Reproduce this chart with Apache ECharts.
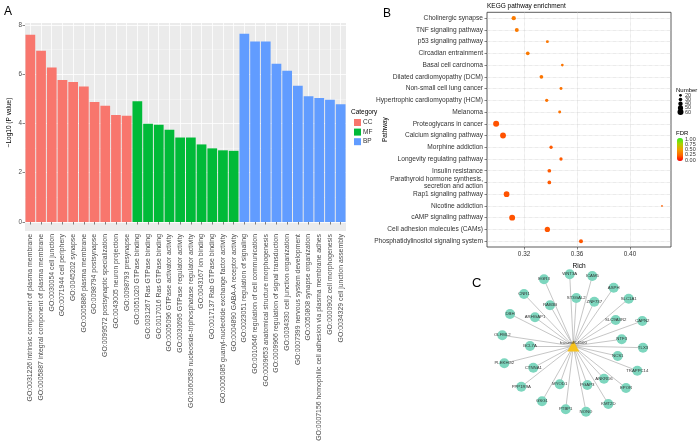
<!DOCTYPE html>
<html><head><meta charset="utf-8">
<script src="https://cdn.jsdelivr.net/npm/echarts@6/dist/echarts.min.js"></script>
<style>html,body{margin:0;padding:0;background:#fff}#c{width:700px;height:445px}</style>
</head><body><div id="c"></div>
<script>
// ---------- Panel A: GO enrichment ----------
const goTerms = [
  'GO:0031226 intrinsic component of plasma membrane','GO:0005887 integral component of plasma membrane',
  'GO:0030054 cell junction','GO:0071944 cell periphery','GO:0045202 synapse','GO:0005886 plasma membrane',
  'GO:0098794 postsynapse','GO:0099572 postsynaptic specialization','GO:0043005 neuron projection','GO:0098793 presynapse',
  'GO:0051020 GTPase binding','GO:0031267 Ras GTPase binding','GO:0017016 Ras GTPase binding',
  'GO:0005096 GTPase activator activity','GO:0030695 GTPase regulator activity',
  'GO:0060589 nucleoside-triphosphatase regulator activity','GO:0043167 ion binding','GO:0017137 Rab GTPase binding',
  'GO:0005085 guanyl-nucleotide exchange factor activity','GO:0004890 GABA-A receptor activity',
  'GO:0023051 regulation of signaling','GO:0010646 regulation of cell communication',
  'GO:0009653 anatomical structure morphogenesis','GO:0009966 regulation of signal transduction',
  'GO:0034330 cell junction organization','GO:0007399 nervous system development','GO:0050808 synapse organization',
  'GO:0007156 homophilic cell adhesion via plasma membrane adhes','GO:0000902 cell morphogenesis','GO:0034329 cell junction assembly'
];
const categoryNames = ['CC','MF','BP'];
const ccValues = [7.60,6.95,6.27,5.77,5.68,5.50,4.87,4.72,4.34,4.31];
const mfValues = [4.90,3.99,3.95,3.75,3.43,3.43,3.15,2.99,2.91,2.89];
const bpValues = [7.64,7.33,7.33,6.43,6.14,5.53,5.11,5.03,4.96,4.78];
const yTicksA = [0,2,4,6,8];

// ---------- Panel B: KEGG dot plot ----------
const pathways = ['Cholinergic synapse','TNF signaling pathway','p53 signaling pathway','Circadian entrainment',
  'Basal cell carcinoma','Dilated cardiomyopathy (DCM)','Non-small cell lung cancer','Hypertrophic cardiomyopathy (HCM)',
  'Melanoma','Proteoglycans in cancer','Calcium signaling pathway','Morphine addiction','Longevity regulating pathway',
  'Insulin resistance','Parathyroid hormone synthesis,\nsecretion and action','Rap1 signaling pathway','Nicotine addiction',
  'cAMP signaling pathway','Cell adhesion molecules (CAMs)','Phosphatidylinositol signaling system'];
const richValues = [0.3122,0.3145,0.3376,0.3228,0.3489,0.3331,0.3479,0.3371,0.3469,0.2989,0.3041,0.3404,0.3479,0.3391,0.3391,0.3068,0.4242,0.3110,0.3376,0.3630];
const geneCounts = [39,35,22,31,19,31,22,26,22,60,58,26,26,31,31,56,7,59,51,35];
const fdrValues = [0.34,0.33,0.32,0.33,0.31,0.31,0.30,0.30,0.30,0.20,0.20,0.22,0.22,0.22,0.22,0.20,0.24,0.20,0.21,0.21];
const richTicks = [0.32,0.36,0.40];
const numberBreaks = [20,30,40,50,60];
const fdrBreaks = [1.00,0.75,0.50,0.25,0.00];

// ---------- Panel C: network ----------
const hubName = 'hsa-miR-4500';
const geneNames = ['EGR3','WNT3A','ICAM5','ASPH','SLC1A1','CAPN2','TLX3','TRAPPC14','EPOR','KMT2D','NONO','PTBP1',
  'GSG1','PPP1R9A','PLEKHG2','OLFML2','DBH','CNR1','RAB3B','ST3GAL2','ZNF737','ARHGAP1','SLC9A3R2','NTF3','NCS1',
  'ANKRD6','PGAP3','MYOD1','CTNNA1','BCL7A'];
const geneDX = [-29.3,-3.6,19,40.4,55.4,69,69.7,64,52.7,35,12.7,-7.6,-31.3,-52,-69,-71,-63.3,-49.3,-23.3,3,21,-38.3,42.4,48.4,44.4,30.7,14,-13.6,-40,-43.3];
const geneDY = [-66.7,-71.7,-70,-58.3,-47.3,-25,1.7,24.7,42,58,65.7,63.3,55.3,40.7,17.3,-10.7,-32,-52,-40.7,-48,-44.3,-28.7,-26,-6.7,10,32.7,39,38.3,21.7,0];

const FONT = "'Liberation Sans', Arial, sans-serif";
const chart = echarts.init(document.getElementById('c'), null, {renderer:'canvas'});

const sizeFn = n => 1.2 + n * 0.08;
const pad = (arr, before, after) => Array(before).fill('-').concat(arr, Array(after).fill('-'));

// layout constants
const gA = {left:25, top:23, width:321, height:199};
const gB = {left:487, top:12.3, width:184, height:234.7};
const hubX = 573.3, hubY = 346;

const minDX = Math.min(0, ...geneDX), maxDX = Math.max(0, ...geneDX);
const minDY = Math.min(0, ...geneDY), maxDY = Math.max(0, ...geneDY);

const nodes = [{name:hubName, x:0, y:0, symbol:'triangle', symbolSize:[12,11],
  itemStyle:{color:'#F6C21C'}, label:{position:'inside', offset:[0,-3], fontSize:4.3}}]
  .concat(geneNames.map((g,i)=>({name:g, x:geneDX[i], y:geneDY[i]})));
const links = geneNames.map(g=>({source:hubName, target:g}));

const graphic = [
  {type:'text', left:4, top:6, style:{text:'A', fontSize:12, fontFamily:FONT, fill:'#000'}},
  {type:'text', left:383, top:8, style:{text:'B', fontSize:12, fontFamily:FONT, fill:'#000'}},
  {type:'text', left:472, top:277, style:{text:'C', fontSize:13, fontFamily:FONT, fill:'#000'}},
  {type:'rect', z:-1, shape:{x:gA.left, y:gA.top+gA.height, width:gA.width, height:9}, style:{fill:'#EBEBEB'}},
  {type:'text', left:351, top:109, style:{text:'Category', fontSize:6.5, fontFamily:FONT, fill:'#000'}},
  {type:'text', left:gB.left, top:3, style:{text:'KEGG pathway enrichment', fontSize:6.5, fontFamily:FONT, fill:'#000'}},
  {type:'text', x:385, y:gB.top + gB.height/2, rotation:Math.PI/2,
   style:{text:'Pathway', fontSize:6.5, fontFamily:FONT, fill:'#000', textAlign:'center', textVerticalAlign:'middle'}},
  {type:'text', left:676, top:87, style:{text:'Number', fontSize:6, fontFamily:FONT, fill:'#000'}},
  {type:'text', left:676, top:130, style:{text:'FDR', fontSize:6, fontFamily:FONT, fill:'#000'}}
];
numberBreaks.forEach((n,i)=>{
  const cy = 95.3 + i*4.2;
  graphic.push({type:'circle', shape:{cx:680.5, cy:cy, r:sizeFn(n)/2}, style:{fill:'#000'}});
  graphic.push({type:'text', x:685, y:cy, style:{text:String(n), fontSize:5.5, fontFamily:FONT, fill:'#333', textVerticalAlign:'middle'}});
});
const fdrTop = 138, fdrH = 23;
fdrBreaks.forEach(v=>{
  const cy = fdrTop + 1 + (1 - v) * (fdrH - 2);
  graphic.push({type:'text', x:685, y:cy, style:{text:v.toFixed(2), fontSize:5.5, fontFamily:FONT, fill:'#333', textVerticalAlign:'middle'}});
});

const option = {
  animation:false,
  textStyle:{fontFamily:FONT},
  grid:[
    Object.assign({show:true, backgroundColor:'#EBEBEB', borderWidth:0}, gA),
    Object.assign({show:true, backgroundColor:'#fff', borderColor:'#333', borderWidth:0.8}, gB)
  ],
  legend:{data:categoryNames, orient:'vertical', left:354, top:119, itemWidth:7, itemHeight:7, itemGap:2.6,
    icon:'rect', padding:0, textStyle:{fontSize:6.5, color:'#333', padding:[0,0,0,-3]}},
  xAxis:[
    {gridIndex:0, type:'category', data:goTerms, offset:9, axisLine:{show:false},
     axisTick:{show:true, alignWithLabel:true, length:2.5, lineStyle:{color:'#333', width:0.6}},
     axisLabel:{rotate:90, fontSize:6.9, color:'#4D4D4D', margin:3, interval:0},
     splitLine:{show:true, alignWithLabel:true, lineStyle:{color:'#fff', width:0.8}}},
    {gridIndex:1, type:'value', min:0.292, max:0.431, axisLine:{show:false},
     axisTick:{show:true, customValues:richTicks, length:2.5, lineStyle:{color:'#333', width:0.6}},
     axisLabel:{customValues:richTicks, formatter:v=>v.toFixed(2), fontSize:6.4, color:'#333', margin:4},
     splitLine:{show:true, customValues:richTicks, lineStyle:{type:'dotted', color:'#C8C8C8', width:0.6}},
     name:'Rich', nameLocation:'middle', nameGap:16, nameTextStyle:{fontSize:6.6, color:'#000'}}
  ],
  yAxis:[
    {gridIndex:0, type:'value', min:0, max:8.08, interval:2, axisLine:{show:false},
     axisTick:{show:true, customValues:yTicksA, length:2.5, lineStyle:{color:'#333', width:0.6}},
     axisLabel:{customValues:yTicksA, fontSize:6.3, color:'#4D4D4D', margin:3},
     splitLine:{show:true, lineStyle:{color:'#fff', width:0.8}},
     minorTick:{show:false, splitNumber:2}, minorSplitLine:{show:true, lineStyle:{color:'#F6F6F6', width:0.5}},
     name:'\u2212Log10 (P value)', nameLocation:'middle', nameGap:12, nameRotate:90,
     nameTextStyle:{fontSize:6.5, color:'#000'}},
    {gridIndex:1, type:'category', data:pathways, inverse:true, axisLine:{show:false},
     axisTick:{show:true, alignWithLabel:true, length:2.5, lineStyle:{color:'#333', width:0.6}},
     axisLabel:{fontSize:6.6, color:'#333', margin:4, interval:0, lineHeight:6.8, align:'right'},
     splitLine:{show:true, alignWithLabel:true, lineStyle:{type:'dotted', color:'#C8C8C8', width:0.6}}}
  ],
  visualMap:{type:'continuous', seriesIndex:3, dimension:3, min:0, max:1, left:677, top:fdrTop,
    itemWidth:6, itemHeight:fdrH, padding:0, calculable:false, text:null, showLabel:false,
    inRange:{color:['#FF0000','#FF6600','#F0A000','#A8D400','#33EE22']}},
  graphic:graphic,
  series:[
    {name:'CC', type:'bar', stack:'a', xAxisIndex:0, yAxisIndex:0, barCategoryGap:'9%', data:pad(ccValues,0,20), itemStyle:{color:'#F8766D'}},
    {name:'MF', type:'bar', stack:'a', xAxisIndex:0, yAxisIndex:0, data:pad(mfValues,10,10), itemStyle:{color:'#00BA38'}},
    {name:'BP', type:'bar', stack:'a', xAxisIndex:0, yAxisIndex:0, data:pad(bpValues,20,0), itemStyle:{color:'#619CFF'}},
    {type:'scatter', xAxisIndex:1, yAxisIndex:1, symbolSize:v=>sizeFn(v[2]),
     data:richValues.map((r,i)=>[r,i,geneCounts[i],fdrValues[i]]), itemStyle:{opacity:1}},
    {type:'graph', layout:'none', roam:false, silent:true,
     left:hubX+minDX, top:hubY+minDY, width:maxDX-minDX, height:maxDY-minDY,
     data:nodes, links:links, symbol:'circle', symbolSize:10,
     itemStyle:{color:'#7DD6BE'}, lineStyle:{color:'#A0A0A0', width:0.6, opacity:1, curveness:0},
     label:{show:true, position:'inside', fontSize:4.3, color:'#333'}}
  ]
};
chart.setOption(option);
</script></body></html>
